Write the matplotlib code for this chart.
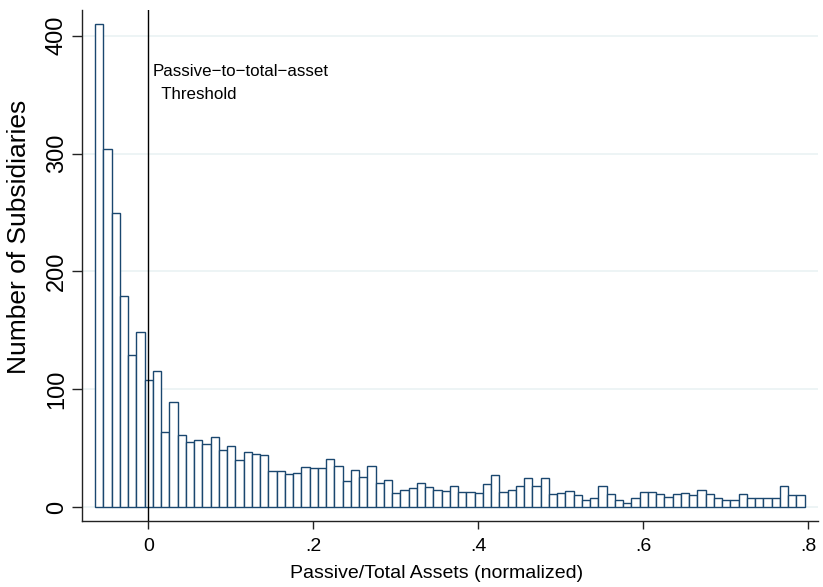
import matplotlib
matplotlib.use("Agg")
import matplotlib.pyplot as plt
import numpy as np

plt.rcParams['font.family'] = ['Liberation Sans', 'DejaVu Sans']

# Histogram data (counts per bin)
bin_start = -0.0646
bin_width = 0.01
counts = [410, 304, 250, 179, 129, 149, 108, 116, 64, 89,
          61, 55, 57, 54, 60, 49, 52, 40, 47, 45,
          44, 31, 31, 28, 29, 34, 33, 33, 41, 35,
          22, 32, 26, 35, 21, 23, 12, 15, 16, 21,
          17, 15, 14, 18, 13, 13, 12, 20, 27, 13,
          15, 18, 25, 18, 25, 11, 12, 14, 10, 6,
          8, 18, 11, 6, 4, 8, 13, 13, 11, 9,
          11, 12, 10, 15, 11, 8, 6, 6, 11, 8,
          8, 8, 8, 18, 10, 10]
x_ticks = [0, 0.2, 0.4, 0.6, 0.8]
x_ticklabels = ["0", ".2", ".4", ".6", ".8"]
y_ticks = [0, 100, 200, 300, 400]
y_ticklabels = ["0", "100", "200", "300", "400"]
threshold = 0.0
annot_text = "Passive\u2212to\u2212total\u2212asset\n  Threshold"
xlabel = "Passive/Total Assets (normalized)"
ylabel = "Number of Subsidiaries"

fig = plt.figure(figsize=(8.23, 5.87), dpi=100)
ax = fig.add_axes([0.0993, 0.1119, 0.8946, 0.8711])

lefts = bin_start + bin_width * np.arange(len(counts))
ax.bar(lefts, counts, width=bin_width, align='edge', facecolor='white',
       edgecolor='#1a476f', linewidth=1.0, zorder=3)

for yt in y_ticks:
    ax.axhline(yt, color='#eaf2f3', linewidth=1.2, zorder=1)

ax.axvline(threshold, color='black', linewidth=1.0, zorder=4)
ax.text(threshold + 0.005, 360, annot_text, fontsize=12.2, va='center', ha='left',
        linespacing=1.7, zorder=5)

ax.set_xlim(-0.0807, 0.8117)
ax.set_ylim(-11.9, 421.8)

ax.set_xticks(x_ticks)
ax.set_xticklabels(x_ticklabels, fontsize=14)
ax.set_yticks(y_ticks)
ax.set_yticklabels(y_ticklabels, fontsize=17, rotation=90, va='center')

ax.tick_params(axis='x', length=6, width=1, color='#222222', pad=6)
ax.tick_params(axis='y', length=7, width=1, color='#222222', pad=3)

for s in ['top', 'right']:
    ax.spines[s].set_visible(False)
for s in ['left', 'bottom']:
    ax.spines[s].set_color('#222222')
    ax.spines[s].set_linewidth(1.0)

ax.set_xlabel(xlabel, fontsize=14)
ax.xaxis.set_label_coords(0.4826, -0.0855)
ax.set_ylabel(ylabel, fontsize=19)
ax.yaxis.set_label_coords(-0.069, 0.556)

fig.savefig("out.png", dpi=100)
